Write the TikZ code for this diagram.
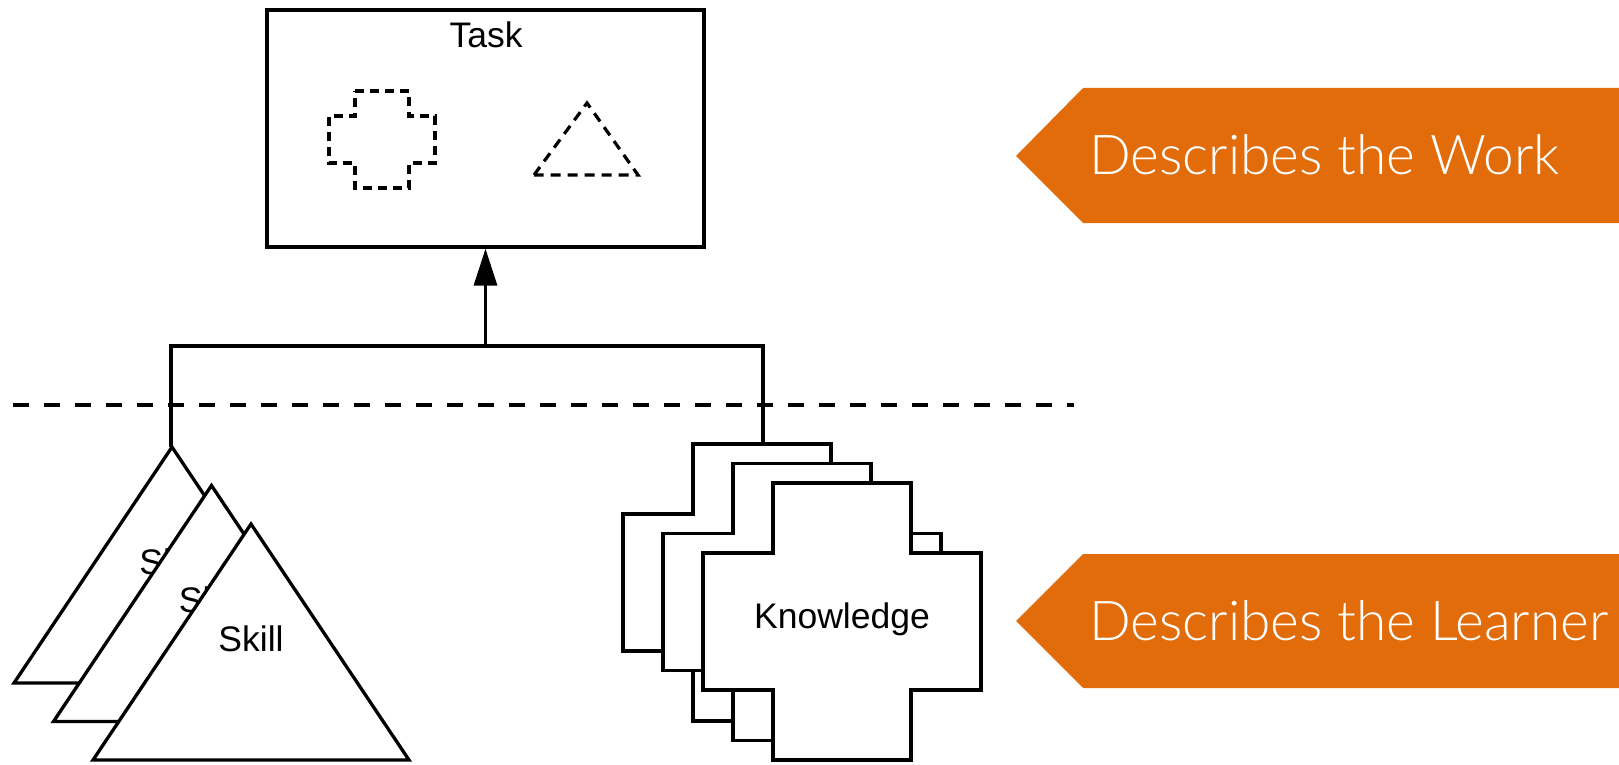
\documentclass[tikz,border=0pt]{standalone}
\usepackage{fontspec}
\setmainfont{Liberation Sans}
\newfontfamily\bannerfont{Lato Light}
\usetikzlibrary{arrows.meta}

\definecolor{bannerorange}{HTML}{E36C0A}

\tikzset{
  outline/.style={draw=black, line width=3.3pt, fill=white, line join=miter},
  conn/.style={draw=black, line width=3.3pt},
  sketchdash/.style={draw=black, line width=3.2pt, dash pattern=on 9pt off 6pt},
  divider/.style={draw=black, line width=3.3pt, dash pattern=on 16pt off 15pt},
  shapelabel/.style={font=\fontsize{35.5}{42}\selectfont, inner sep=0pt, anchor=base},
  banner/.style={fill=bannerorange, draw=none},
  bannertext/.style={font=\bannerfont\fontsize{55}{62}\selectfont, text=white, inner sep=0pt, anchor=base west},
}

% cross outline with top-left corner (#1,#2)
\newcommand{\crossoutline}[2]{%
  \path[outline] (#1+70,#2) -- (#1+208,#2) -- (#1+208,#2+70) -- (#1+278,#2+70)
    -- (#1+278,#2+207) -- (#1+208,#2+207) -- (#1+208,#2+277) -- (#1+70,#2+277)
    -- (#1+70,#2+207) -- (#1,#2+207) -- (#1,#2+70) -- (#1+70,#2+70) -- cycle;}

% triangle outline with apex (#1,#2)
\newcommand{\trioutline}[2]{%
  \path[outline] (#1,#2) -- (#1+158,#2+236) -- (#1-158,#2+236) -- cycle;}

\begin{document}
\begin{tikzpicture}[x=1pt, y=-1pt]
\useasboundingbox (0,0) rectangle (1619,765);

% task box
\node[draw=black, line width=3.3pt, minimum width=437pt, minimum height=237pt, inner sep=0pt]
  (task) at (485.5,128.5) {};
\node[shapelabel] (tasklabel) at (486,48) {Task};
\path[sketchdash] (355,91) -- (409,91) -- (409,116) -- (435,116) -- (435,163) -- (409,163)
  -- (409,188) -- (355,188) -- (355,163) -- (329,163) -- (329,116) -- (355,116) -- cycle;
\path[sketchdash, dash pattern=on 10pt off 7pt] (534,175) -- (587,103) -- (638,175) -- cycle;

% connectors
\coordinate (hub) at (485.5,346);
\coordinate (skilltop) at (171,447);
\coordinate (knowtop) at (763,444);
\draw[conn] (skilltop) |- (hub) -| (knowtop);
\draw[conn, -{Triangle[length=37pt, width=23pt]}] (hub) -- (task.south);

% dividing line
\coordinate (divl) at (13,405);
\coordinate (divr) at (1074,405);
\path[divider] (divl) -- (divr);

% skills, stacked
\trioutline{172}{447}
\node[shapelabel] (skill1) at (172,574) {Skill};
\trioutline{211.5}{485.5}
\node[shapelabel] (skill2) at (211.5,612.5) {Skill};
\trioutline{251}{524}
\node[shapelabel] (skill3) at (251,651) {Skill};

% knowledge, stacked
\crossoutline{623}{444}
\crossoutline{663}{463.5}
\crossoutline{703}{483}
\node[shapelabel] (knowledge) at (842,628) {Knowledge};

% banners
\path[banner] (1016,156) -- (1083,88) -- (1619,88) -- (1619,223) -- (1083,223) -- cycle;
\node[bannertext] (work) at (1089,175) {Describes the Work};
\path[banner] (1016,621) -- (1083,554) -- (1619,554) -- (1619,688) -- (1083,688) -- cycle;
\node[bannertext] (learner) at (1089,640) {Describes the Learner};
\end{tikzpicture}
\end{document}
